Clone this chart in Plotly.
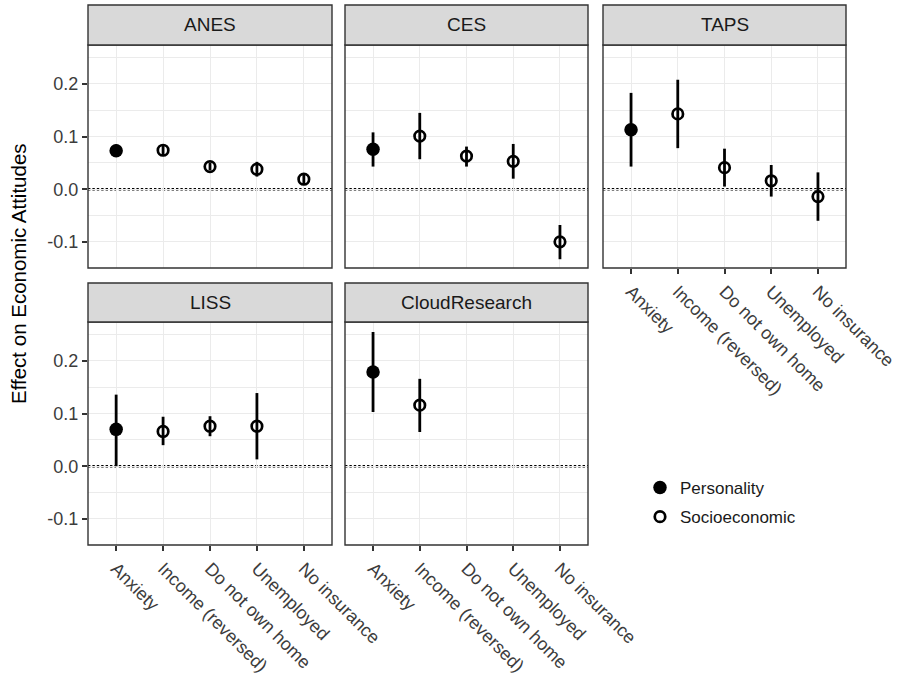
import plotly.graph_objects as go

# ---------------------------------------------------------------- data
categories = ["Anxiety", "Income (reversed)", "Do not own home", "Unemployed", "No insurance"]
studies = ["ANES", "CES", "TAPS", "LISS", "CloudResearch"]

# point estimates and 95% interval bounds; None = not measured in that study
anes_est = [0.073, 0.074, 0.043, 0.038, 0.019]
anes_lo = [0.062, 0.063, 0.036, 0.024, 0.011]
anes_hi = [0.085, 0.085, 0.050, 0.052, 0.027]

ces_est = [0.076, 0.101, 0.063, 0.053, -0.100]
ces_lo = [0.043, 0.057, 0.043, 0.020, -0.133]
ces_hi = [0.108, 0.145, 0.081, 0.086, -0.068]

taps_est = [0.113, 0.143, 0.041, 0.016, -0.014]
taps_lo = [0.043, 0.078, 0.005, -0.014, -0.060]
taps_hi = [0.183, 0.208, 0.077, 0.046, 0.032]

liss_est = [0.070, 0.066, 0.076, 0.076, None]
liss_lo = [0.000, 0.040, 0.057, 0.013, None]
liss_hi = [0.136, 0.094, 0.095, 0.139, None]

cloud_est = [0.179, 0.116, None, None, None]
cloud_lo = [0.103, 0.065, None, None, None]
cloud_hi = [0.255, 0.166, None, None, None]

y_tickvals = [-0.1, 0.0, 0.1, 0.2]
y_ticktext = ["-0.1", "0.0", "0.1", "0.2"]

series = {
    "ANES": (anes_est, anes_lo, anes_hi),
    "CES": (ces_est, ces_lo, ces_hi),
    "TAPS": (taps_est, taps_lo, taps_hi),
    "LISS": (liss_est, liss_lo, liss_hi),
    "CloudResearch": (cloud_est, cloud_lo, cloud_hi),
}

# ---------------------------------------------------------------- layout geometry (pixels)
W, H = 901, 688
cols = [(88, 332), (345, 588), (603, 846)]
rows = [((5, 45), (45, 268)), ((283, 322), (322, 545))]  # (strip, panel) vertical extents
placement = {"ANES": (0, 0), "CES": (0, 1), "TAPS": (0, 2), "LISS": (1, 0), "CloudResearch": (1, 1)}
labelled_x = {"TAPS", "LISS", "CloudResearch"}
labelled_y = {"ANES", "LISS"}

FONT = "Liberation Sans, Arial, sans-serif"
DARK = "#333333"
TEXT = "#3C3C3C"
GRID = "#EBEBEB"

fig = go.Figure()
shapes, annotations = [], []
layout_axes = {}

for i, study in enumerate(studies):
    n = i + 1
    xa, ya = ("x" if n == 1 else f"x{n}"), ("y" if n == 1 else f"y{n}")
    r, c = placement[study]
    (s0, s1), (p0, p1) = rows[r]
    x0, x1 = cols[c]
    est, lo, hi = series[study]

    kinds = [("Personality", [0]), ("Socioeconomic", [1, 2, 3, 4])]
    for name, idx in kinds:
        keep = [k for k in idx if est[k] is not None]
        filled = name == "Personality"
        fig.add_trace(go.Scatter(
            x=[categories[k] for k in keep],
            y=[est[k] for k in keep],
            mode="markers", name=name, legendgroup=name,
            showlegend=(i == 0),
            xaxis=xa, yaxis=ya,
            error_y=dict(type="data", symmetric=False,
                         array=[hi[k] - est[k] for k in keep],
                         arrayminus=[est[k] - lo[k] for k in keep],
                         width=0, thickness=2.8, color="black"),
            marker=dict(
                symbol="circle" if filled else "circle-open",
                size=13.5 if filled else 10.5,
                color="black",
                line=dict(width=0 if filled else 2.7, color="black"),
            ),
        ))

    layout_axes[f"xaxis{'' if n == 1 else n}"] = dict(
        domain=[x0 / W, x1 / W], anchor=ya, automargin=False,
        type="category", categoryorder="array", categoryarray=categories,
        range=[-0.6, 4.6],
        showgrid=True, gridcolor=GRID, gridwidth=1.2,
        zeroline=False, showline=False,
        ticks="outside" if study in labelled_x else "",
        ticklen=5, tickwidth=1.5, tickcolor=DARK,
        showticklabels=study in labelled_x,
        tickangle=45,
        tickfont=dict(family=FONT, size=18, color=TEXT),
        fixedrange=True,
    )
    layout_axes[f"yaxis{'' if n == 1 else n}"] = dict(
        domain=[1 - p1 / H, 1 - p0 / H], anchor=xa, automargin=False,
        range=[-0.1497, 0.274],
        tickvals=y_tickvals, ticktext=y_ticktext,
        showgrid=True, gridcolor=GRID, gridwidth=1.2,
        minor=dict(dtick=0.05, tick0=0, showgrid=True, gridcolor=GRID, gridwidth=0.7),
        zeroline=False, showline=False,
        ticks="outside" if study in labelled_y else "",
        ticklen=5, tickwidth=1.5, tickcolor=DARK,
        showticklabels=study in labelled_y,
        tickfont=dict(family=FONT, size=18, color=TEXT),
        fixedrange=True,
    )

    # dotted reference line at zero
    shapes.append(dict(type="line", xref=f"{xa} domain", yref=ya, x0=0, x1=1, y0=0, y1=0,
                       line=dict(color="black", width=2.6, dash="2.4px,2px"), layer="below"))
    # panel border
    shapes.append(dict(type="rect", xref="paper", yref="paper",
                       x0=x0 / W, x1=x1 / W, y0=1 - p1 / H, y1=1 - p0 / H,
                       line=dict(color=DARK, width=1.4), fillcolor="rgba(0,0,0,0)", layer="above"))
    # facet strip
    shapes.append(dict(type="rect", xref="paper", yref="paper",
                       x0=x0 / W, x1=x1 / W, y0=1 - s1 / H, y1=1 - s0 / H,
                       line=dict(color=DARK, width=1.4), fillcolor="#D9D9D9", layer="above"))
    annotations.append(dict(text=study, xref="paper", yref="paper",
                            x=(x0 + x1) / 2 / W, y=1 - (s0 + s1) / 2 / H,
                            xanchor="center", yanchor="middle", showarrow=False,
                            font=dict(family=FONT, size=19, color="#1A1A1A")))

annotations.append(dict(text="Effect on Economic Attitudes", xref="paper", yref="paper",
                        x=18 / W, y=1 - 274 / H, textangle=-90,
                        xanchor="center", yanchor="middle", showarrow=False,
                        font=dict(family=FONT, size=20.5, color="black")))

fig.update_layout(
    width=W, height=H,
    margin=dict(l=0, r=0, t=0, b=0, autoexpand=False),
    paper_bgcolor="white", plot_bgcolor="white",
    shapes=shapes, annotations=annotations,
    legend=dict(x=640 / W, y=1 - 470 / H, xanchor="left", yanchor="top",
                font=dict(family=FONT, size=17, color="#1A1A1A"),
                tracegroupgap=4, bgcolor="rgba(0,0,0,0)"),
    font=dict(family=FONT),
    **layout_axes,
)

fig.write_html("out.html")
